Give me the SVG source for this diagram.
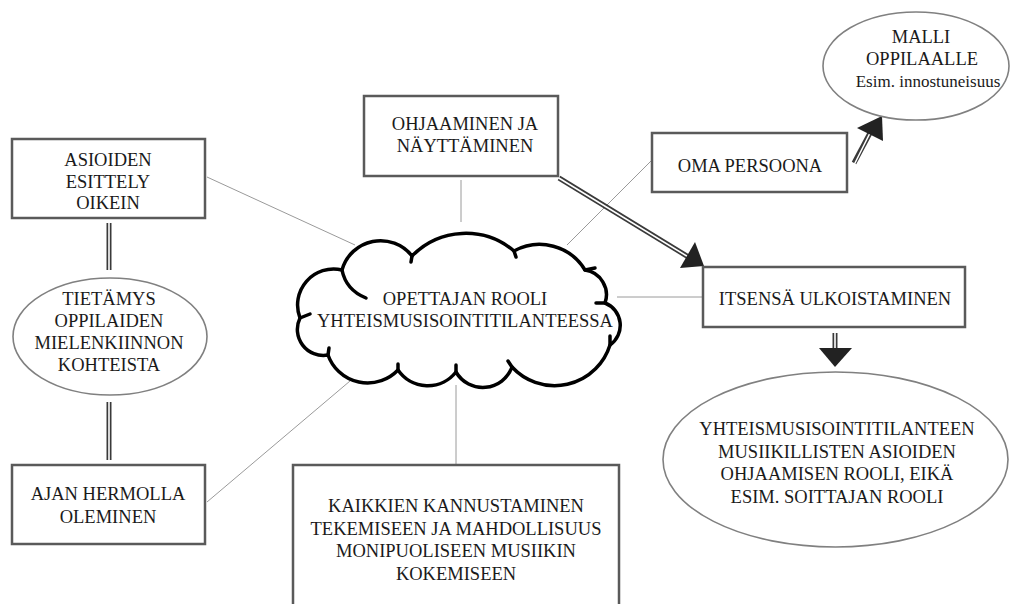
<svg xmlns="http://www.w3.org/2000/svg" width="1011" height="604" viewBox="0 0 1011 604" font-family="'Liberation Serif', 'DejaVu Serif', serif">
<style>
text{font-family:'Liberation Serif','DejaVu Serif',serif;font-size:18.5px;fill:#1a1a1a;text-anchor:middle}
.box{fill:#fff;stroke:#5a5a5a;stroke-width:2.5}
.ell{fill:#fff;stroke:#808080;stroke-width:1.6}
.con{stroke:#9a9a9a;stroke-width:1;fill:none}
.dbl-o{stroke:#3a3a3a;stroke-width:5;fill:none}
.dbl-i{stroke:#fff;stroke-width:1.6;fill:none}
.head{fill:#222}
.cloud{fill:#fff;stroke:#000;stroke-width:3.5;stroke-linecap:round;stroke-linejoin:round}
.hook{fill:none;stroke:#000;stroke-width:3.5;stroke-linecap:round}
</style>
<rect width="1011" height="604" fill="#fff"/>
<g id="connectors">
<line class="con" x1="207" y1="177" x2="355" y2="245"/>
<line class="con" x1="461" y1="180" x2="461" y2="222"/>
<line class="con" x1="652" y1="160" x2="567" y2="245"/>
<line class="con" x1="617" y1="297" x2="703" y2="297"/>
<line class="con" x1="456" y1="385" x2="456" y2="465"/>
<line class="con" x1="207" y1="502" x2="350" y2="381"/>
<line class="dbl-o" x1="109" y1="223" x2="109" y2="270"/>
<line class="dbl-i" x1="109" y1="222" x2="109" y2="271"/>
<line class="dbl-o" x1="109" y1="402" x2="109" y2="460"/>
<line class="dbl-i" x1="109" y1="401" x2="109" y2="461"/>
<line class="dbl-o" x1="559" y1="178" x2="690" y2="258"/>
<line class="dbl-i" x1="558" y1="177.5" x2="690" y2="258"/>
<polygon class="head" points="680,268 695,242 704,266"/>
<line class="dbl-o" x1="854" y1="163" x2="870" y2="133"/>
<line class="dbl-i" x1="854.5" y1="164" x2="870" y2="133"/>
<polygon class="head" points="857,128 883,141 882,116"/>
<line class="dbl-o" x1="835" y1="333" x2="835" y2="350"/>
<line class="dbl-i" x1="835" y1="332" x2="835" y2="350"/>
<polygon class="head" points="819,348 852,348 835,367"/>
</g>
<g id="cloud">
<path class="cloud" d="M300,318 A36,36 0 0 1 342,270 A40,40 0 0 1 412,256 A75,75 0 0 1 514,251 A53,53 0 0 1 585,270 A25,25 0 0 1 605,303 A24,24 0 0 1 610,345 A58,58 0 0 1 512,367 A31,31 0 0 1 456,372 A36,36 0 0 1 398,370 A42,42 0 0 1 328,355 A26,26 0 0 1 300,318 Z"/>
<path class="hook" d="M342,270 Q346,290 366,298"/>
<path class="hook" d="M412,256 L411,262"/>
<path class="hook" d="M514,251 L516,257"/>
<path class="hook" d="M585,270 L595,268"/>
<path class="hook" d="M605,303 L596,303"/>
<path class="hook" d="M610,345 L610,336"/>
<path class="hook" d="M512,367 L508,361"/>
<path class="hook" d="M456,372 L456,365"/>
<path class="hook" d="M398,370 L398,364"/>
<path class="hook" d="M328,355 L329,348"/>
<path class="hook" d="M300,318 L310,314"/>
<text x="465" y="305">OPETTAJAN ROOLI</text>
<text x="465" y="327">YHTEISMUSISOINTITILANTEESSA</text>
</g>
<g id="asioiden">
<rect class="box" x="12" y="139" width="193" height="79"/>
<text x="108" y="166">ASIOIDEN</text>
<text x="108" y="188">ESITTELY</text>
<text x="108" y="209">OIKEIN</text>
</g>
<g id="tietamys">
<ellipse class="ell" cx="110" cy="336.5" rx="97" ry="58.5"/>
<text x="109" y="305">TIETÄMYS</text>
<text x="109" y="327">OPPILAIDEN</text>
<text x="109" y="349">MIELENKIINNON</text>
<text x="109" y="371">KOHTEISTA</text>
</g>
<g id="ajan">
<rect class="box" x="12" y="465" width="193" height="79"/>
<text x="108" y="500">AJAN HERMOLLA</text>
<text x="108" y="523">OLEMINEN</text>
</g>
<g id="ohjaaminen">
<rect class="box" x="364" y="96" width="194" height="80"/>
<text x="465" y="130">OHJAAMINEN JA</text>
<text x="465" y="152">NÄYTTÄMINEN</text>
</g>
<g id="oma">
<rect class="box" x="652" y="133" width="195" height="59"/>
<text x="750" y="172">OMA PERSOONA</text>
</g>
<g id="malli">
<ellipse class="ell" cx="916" cy="66" rx="93" ry="54"/>
<text x="921" y="43">MALLI</text>
<text x="922" y="65">OPPILAALLE</text>
<text x="928" y="87" style="font-size:17px">Esim. innostuneisuus</text>
</g>
<g id="itsensa">
<rect class="box" x="703" y="267" width="262" height="60"/>
<text x="835" y="305">ITSENSÄ ULKOISTAMINEN</text>
</g>
<g id="yhteis">
<ellipse class="ell" cx="835.5" cy="459.5" rx="172.5" ry="87.5"/>
<text x="837" y="435">YHTEISMUSISOINTITILANTEEN</text>
<text x="837" y="458">MUSIIKILLISTEN ASIOIDEN</text>
<text x="837" y="480">OHJAAMISEN ROOLI, EIKÄ</text>
<text x="837" y="503">ESIM. SOITTAJAN ROOLI</text>
</g>
<g id="kaikkien">
<rect class="box" x="293" y="465" width="326" height="150"/>
<text x="456" y="512">KAIKKIEN KANNUSTAMINEN</text>
<text x="456" y="535">TEKEMISEEN JA MAHDOLLISUUS</text>
<text x="456" y="557">MONIPUOLISEEN MUSIIKIN</text>
<text x="456" y="580">KOKEMISEEN</text>
</g>
</svg>
